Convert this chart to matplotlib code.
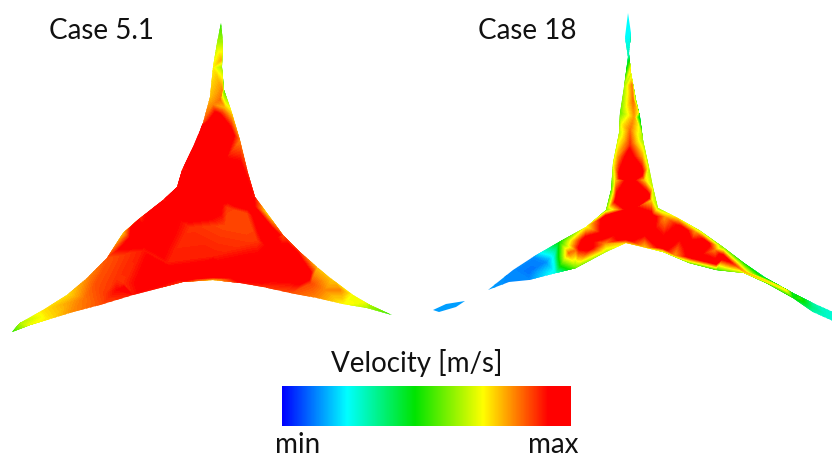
import numpy as np
import matplotlib
matplotlib.use('Agg')
import matplotlib.pyplot as plt
from matplotlib.colors import LinearSegmentedColormap
from matplotlib.patches import Polygon

# everything in pixel coords, v = velocity 0 (min) .. 1 (max)
case51_edge_x = [221, 223, 222, 224, 232, 240, 248, 255, 267, 283, 300, 317, 333, 353, 370, 392, 367, 343, 317, 290, 263, 240, 213, 183, 160, 133, 100, 73, 50, 30, 12, 20, 43, 67, 87, 107, 123, 140, 163, 177, 182, 193, 203, 210, 213, 217]
case51_edge_y = [23, 43, 67, 90, 113, 140, 173, 197, 213, 235, 252, 267, 280, 295, 305, 315, 308, 304, 298, 293, 287, 283, 280, 282, 288, 295, 305, 312, 319, 325, 332, 323, 310, 295, 278, 258, 233, 218, 200, 187, 170, 147, 123, 97, 67, 43]
case51_edge_v = [.5, .62, .6, .52, .72, .8, .88, .9, .72, .85, .86, .75, .74, .68, .6, .5, .62, .7, .8, .85, .88, .9, .74, .88, .9, .9, .85, .8, .72, .68, .5, .62, .72, .72, .8, .85, .74, .88, .9, .9, .9, .9, .85, .75, .7, .62]

case51_in_x = [221, 222, 220, 213, 225, 217, 230, 240, 250, 260, 275, 295, 308, 310, 325, 340, 365, 217, 215, 205, 195, 183, 176, 160, 135, 133, 195, 205, 227, 247, 257, 213, 167, 123, 117, 143, 190, 225, 230, 280, 290, 260, 240, 213, 185, 150, 125, 117, 107, 95, 70, 40, 105, 85, 270, 213, 165, 190, 150]
case51_in_y = [60, 90, 100, 105, 108, 117, 133, 175, 205, 217, 235, 255, 275, 283, 290, 290, 302, 170, 200, 190, 150, 175, 192, 207, 225, 240, 130, 127, 207, 213, 240, 257, 263, 283, 280, 250, 227, 225, 195, 255, 270, 275, 277, 276, 278, 283, 290, 290, 263, 285, 303, 317, 295, 298, 240, 267, 274, 212, 236]
case51_in_v = [.76, .8, .82, .8, .75, 1, 1, 1, 1, 1, 1, 1, 1, .86, .8, .8, .68, 1, 1, 1, 1, 1, 1, 1, 1, 1, 1, 1, .87, .86, .87, .9, .9, .88, .88, .9, .88, .86, 1, 1, 1, 1, 1, 1, 1, .97, .95, .92, .85, .85, .78, .68, .87, .82, 1, 1, 1, 1, 1]

case18_edge_x = [628, 631, 629, 631, 636, 640, 643, 649, 653, 658, 676, 699, 723, 744, 766, 793, 813, 833, 833, 813, 793, 766, 744, 716, 689, 663, 626, 606, 576, 556, 529, 509, 488, 513, 533, 559, 586, 606, 611, 613, 619, 620, 624, 628, 625]
case18_edge_y = [13, 33, 53, 73, 100, 117, 140, 167, 187, 208, 217, 230, 247, 263, 278, 293, 303, 312, 321, 312, 298, 283, 273, 270, 263, 252, 243, 252, 268, 273, 280, 282, 290, 270, 257, 242, 227, 210, 190, 163, 133, 113, 87, 57, 37]
case18_edge_v = [.22, .22, .28, .62, .55, .35, .6, .62, .62, .6, .7, .62, .55, .45, .34, .4, .3, .26, .26, .3, .45, .5, .62, .5, .55, .62, .72, .62, .55, .25, .12, .12, .14, .12, .12, .45, .68, .55, .5, .65, .62, .55, .6, .3, .22]

case18_in_x = [629, 630, 631, 632, 633, 634, 638, 622, 638, 630, 630, 629, 641, 648, 651, 683, 706, 723, 716, 693, 663, 626, 589, 586, 606, 617, 621, 630, 630, 650, 690, 620, 645, 605, 745, 766, 786, 800, 812, 825, 530, 546, 550, 554, 559, 566, 576, 569, 580, 735, 616, 644, 612, 651, 618, 642, 665, 695, 715, 675, 645, 605]
case18_in_y = [30, 55, 70, 85, 100, 117, 112, 125, 125, 130, 145, 157, 173, 197, 217, 230, 243, 257, 263, 257, 247, 238, 248, 240, 217, 200, 177, 180, 210, 235, 245, 230, 230, 235, 272, 281, 290, 298, 307, 314, 272, 262, 258, 257, 257, 257, 250, 253, 248, 265, 180, 180, 200, 200, 157, 157, 217, 232, 250, 255, 247, 243]
case18_in_v = [.22, .3, .72, .8, .82, .78, .7, .7, .7, .82, .88, 1, 1, 1, 1, 1, 1, 1, .97, 1, 1, 1, .97, 1, 1, 1, 1, 1, 1, 1, 1, 1, 1, 1, .75, .72, .7, .5, .34, .28, .1, .12, .18, .24, .46, .7, .82, .82, .95, .86, .74, .74, .72, .72, .78, .78, .78, .78, .8, .78, .74, .8]

case18_piece_x = [433, 446, 465, 456, 439]
case18_piece_y = [310, 304, 301, 307, 312]
case18_piece_v = .14

cbar_stops = [0, .224, .46, .697, .923, 1]
cbar_colors = ['#0000ff', '#00ffff', '#00e400', '#ffff00', '#ff0000', '#ff0000']

labels = ['Case 5.1', 'Case 18']
cbar_title = 'Velocity [m/s]'
cbar_ends = ['min', 'max']

cmap = LinearSegmentedColormap.from_list('vel', list(zip(cbar_stops, cbar_colors)), N=512)
levels = np.linspace(0, 1.01, 121)

fig = plt.figure(figsize=(8.32, 4.57), dpi=100)
ax = fig.add_axes([0, 0, 1, 1])


def draw_case(ex, ey, ev, ix, iy, iv):
    # contour the samples then cut it down to the outline
    xs = np.array(ex + ix, float)
    ys = np.array(ey + iy, float)
    vs = np.array(ev + iv, float)
    cs = ax.tricontourf(xs, ys, vs, levels=levels, cmap=cmap, vmin=0, vmax=1)
    outline = Polygon(np.column_stack([ex, ey]), closed=True, transform=ax.transData, fc='none', ec='none')
    ax.add_patch(outline)
    cs.set_clip_path(outline)


draw_case(case51_edge_x, case51_edge_y, case51_edge_v, case51_in_x, case51_in_y, case51_in_v)
draw_case(case18_edge_x, case18_edge_y, case18_edge_v, case18_in_x, case18_in_y, case18_in_v)
ax.fill(case18_piece_x, case18_piece_y, color=cmap(case18_piece_v), lw=0)

# colorbar
ax.imshow(np.linspace(0, 1, 290)[None, :], cmap=cmap, vmin=0, vmax=1, extent=(282, 571, 426, 386), aspect='auto', interpolation='bilinear')

font = 'Lato'
size = 20
ax.text(49, 39, labels[0], fontsize=size, family=font, color='#111111', ha='left', va='baseline')
ax.text(478, 39, labels[1], fontsize=size, family=font, color='#111111', ha='left', va='baseline')
ax.text(417, 372, cbar_title, fontsize=size, family=font, color='#111111', ha='center', va='baseline')
ax.text(275, 453, cbar_ends[0], fontsize=size, family=font, color='#111111', ha='left', va='baseline')
ax.text(579, 453, cbar_ends[1], fontsize=size, family=font, color='#111111', ha='right', va='baseline')

ax.set_xlim(0, 832)
ax.set_ylim(457, 0)
ax.axis('off')

fig.savefig('out.png', dpi=100)
